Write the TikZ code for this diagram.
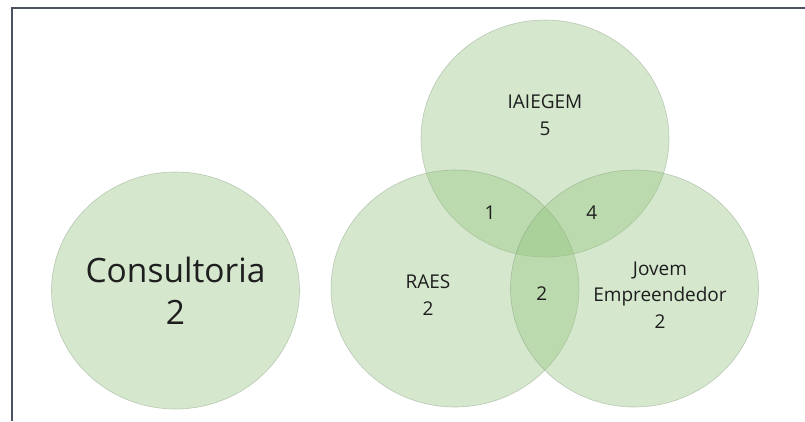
\documentclass[tikz,border=0pt]{standalone}
\usepackage{fontspec}
\setmainfont{Open Sans}
\usetikzlibrary{shapes.geometric}
\definecolor{venn}{RGB}{147,196,125}
\definecolor{framec}{RGB}{75,82,98}
\definecolor{edgec}{RGB}{120,140,115}
\definecolor{txt}{RGB}{30,30,30}
\begin{document}
\begin{tikzpicture}[x=1pt,y=-1pt,
  setc/.style={ellipse, inner sep=0pt, minimum width=248pt, minimum height=237pt,
    fill=venn, fill opacity=0.38, draw=edgec, draw opacity=0.4, line width=0.6pt},
  lbl/.style={align=center, text=txt, inner sep=0pt, font=\fontsize{19}{26.5}\selectfont},
  biglbl/.style={align=center, text=txt, inner sep=0pt, font=\fontsize{33.5}{42}\selectfont}]
\useasboundingbox (0,0) rectangle (805,421);
\fill[white] (0,0) rectangle (805,421);
\draw[framec, line width=2pt] (12.3,421) -- (12.3,7.7) -- (805,7.7);
\node[setc] (cons) at (175.5,290.5) {};
\node[setc] (iai) at (545,138.5) {};
\node[setc] (raes) at (455,288.5) {};
\node[setc] (jov) at (634.5,288.5) {};
\node[biglbl] (tcons) at (175.5,291) {Consultoria\\2};
\node[lbl] (tiai) at (545,115) {IAIEGEM\\5};
\node[lbl] (traes) at (428,295) {RAES\\2};
\node[lbl] (tjov) at (660,295) {Jovem\\Empreendedor\\2};
\node[lbl] (tia) at (490,212.7) {1};
\node[lbl] (tij) at (591.7,212.7) {4};
\node[lbl] (trj) at (541.7,293.3) {2};
\end{tikzpicture}
\end{document}
